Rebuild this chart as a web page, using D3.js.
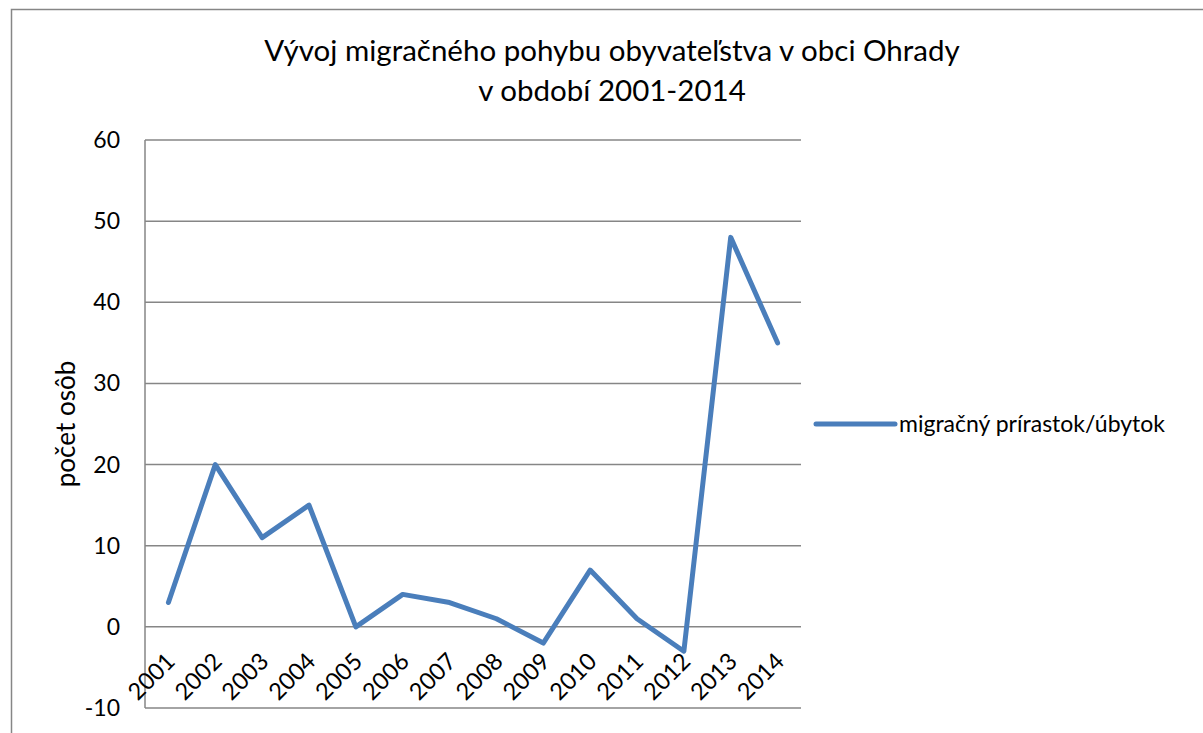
<!DOCTYPE html>
<html>
<head>
<meta charset="utf-8">
<script src="https://cdn.jsdelivr.net/npm/d3@7"></script>
<style>
  body { margin: 0; background: #fff; }
  text { font-family: Lato, "Open Sans", sans-serif; fill: #000; }
</style>
</head>
<body>
<div id="chart"></div>
<script>
// data
var years = ["2001", "2002", "2003", "2004", "2005", "2006", "2007",
             "2008", "2009", "2010", "2011", "2012", "2013", "2014"];
var migration = [3, 20, 11, 15, 0, 4, 3, 1, -2, 7, 1, -3, 48, 35];
var yTicks = [-10, 0, 10, 20, 30, 40, 50, 60];
var seriesName = "migračný prírastok/úbytok";
var titleLines = ["Vývoj migračného pohybu obyvateľstva v obci Ohrady", "v období 2001-2014"];
var yLabel = "počet osôb";

var W = 1203, H = 733;
var margin = {top: 140, left: 145, right: 402, bottom: 25};
var width = W - margin.left - margin.right,
    height = H - margin.top - margin.bottom;

var svg = d3.select("#chart").append("svg")
    .attr("width", W)
    .attr("height", H);

// outer chart border
svg.append("rect")
    .attr("x", 11.5).attr("y", 9.5)
    .attr("width", 1250).attr("height", 800)
    .style("fill", "none")
    .style("stroke", "#868686")
    .style("stroke-width", 1.5);

// title
svg.append("text")
    .attr("text-anchor", "middle")
    .style("font-size", "29.5px")
    .selectAll("tspan")
    .data(titleLines)
    .enter().append("tspan")
    .attr("x", 612)
    .attr("y", function(d, i) { return 61 + i * 40; })
    .text(function(d) { return d; });

var g = svg.append("g")
    .attr("transform", "translate(" + margin.left + "," + margin.top + ")");

var x = d3.scaleBand()
    .domain(years)
    .range([0, width]);

var y = d3.scaleLinear()
    .domain([-10, 60])
    .range([height, 0]);

// gridlines
g.selectAll(".grid")
    .data(yTicks)
    .enter().append("line")
    .attr("x1", 0).attr("x2", width)
    .attr("y1", function(d) { return y(d); })
    .attr("y2", function(d) { return y(d); })
    .style("stroke", "#868686")
    .style("stroke-width", 1.5);

// y axis line
g.append("line")
    .attr("x1", 0).attr("x2", 0)
    .attr("y1", 0).attr("y2", height)
    .style("stroke", "#868686")
    .style("stroke-width", 1.5);

// y tick labels
g.selectAll(".ylab")
    .data(yTicks)
    .enter().append("text")
    .attr("x", -25)
    .attr("y", function(d) { return y(d); })
    .attr("dy", "0.35em")
    .attr("text-anchor", "end")
    .style("font-size", "23px")
    .text(function(d) { return d; });

// x tick labels, rotated
g.selectAll(".xlab")
    .data(years)
    .enter().append("text")
    .attr("text-anchor", "end")
    .style("font-size", "23.5px")
    .attr("transform", function(d) {
        return "translate(" + (x(d) + x.bandwidth() / 2 + 8) + "," + (y(0) + 36) + ") rotate(-45)";
    })
    .text(function(d) { return d; });

// y axis title
svg.append("text")
    .attr("transform", "translate(75," + (margin.top + y(25)) + ") rotate(-90)")
    .attr("text-anchor", "middle")
    .style("font-size", "26px")
    .text(yLabel);

// series line
var line = d3.line()
    .x(function(d, i) { return x(years[i]) + x.bandwidth() / 2; })
    .y(function(d) { return y(d); });

g.append("path")
    .datum(migration)
    .attr("d", line)
    .style("fill", "none")
    .style("stroke", "#4a7ebb")
    .style("stroke-width", 5)
    .style("stroke-linejoin", "round")
    .style("stroke-linecap", "round");

// legend
var legend = svg.append("g").attr("transform", "translate(0,424)");
legend.append("line")
    .attr("x1", 816).attr("x2", 895)
    .attr("y1", 0).attr("y2", 0)
    .style("stroke", "#4a7ebb")
    .style("stroke-width", 5)
    .style("stroke-linecap", "round");
legend.append("text")
    .attr("x", 899)
    .attr("y", 0)
    .attr("dy", "0.35em")
    .style("font-size", "23px")
    .text(seriesName);
</script>
</body>
</html>
